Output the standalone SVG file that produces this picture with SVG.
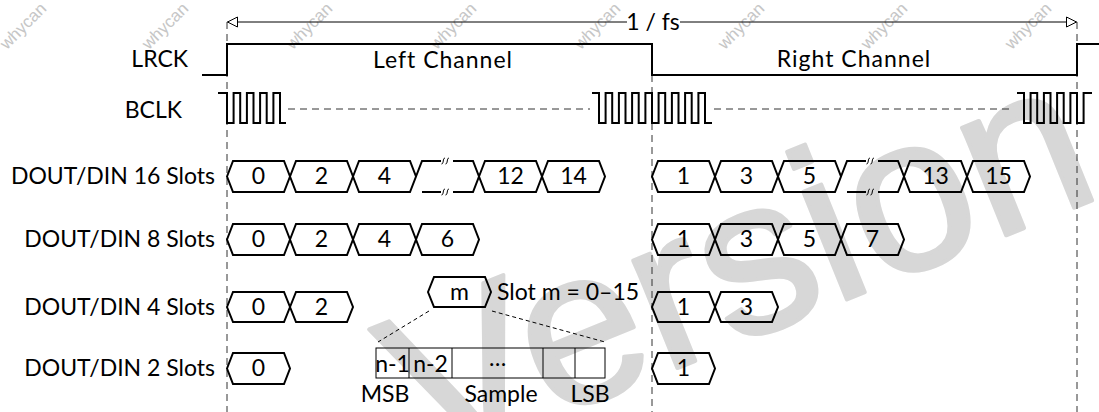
<svg xmlns="http://www.w3.org/2000/svg" width="1099" height="412" viewBox="0 0 1099 412">
<defs>
<style>
.t{font-family:Lato,"Liberation Sans",sans-serif;font-size:23px;fill:#000}
.m{text-anchor:middle}
.e{text-anchor:end}
.ch{letter-spacing:1px}
.wm{font-family:"Liberation Sans",sans-serif;font-size:17px;fill:#c6c6c6;text-anchor:middle}
.big{font-family:"Liberation Sans",sans-serif;font-size:220px;fill:#d7d7d7;stroke:#d7d7d7;stroke-width:4;stroke-linejoin:round}
.sig{fill:none;stroke:#000;stroke-width:2;stroke-linejoin:miter}
.hex{fill:none;stroke:#000;stroke-width:2;stroke-linejoin:miter}
.dash{fill:none;stroke:#333;stroke-width:1;stroke-dasharray:7 5}
.thin{fill:none;stroke:#000;stroke-width:1}
.sq{fill:none;stroke:#000;stroke-width:1}
.box{fill:none;stroke:#000;stroke-width:1}
</style>
<marker id="arr" viewBox="0 0 12 12" refX="11" refY="6" markerWidth="12" markerHeight="12" markerUnits="userSpaceOnUse" orient="auto">
<path d="M1,1 L11,6 L1,11 Z" fill="#fff" stroke="#000" stroke-width="1"/>
</marker>
</defs>

<g id="watermark">
<text class="big" transform="translate(425,470) rotate(-22)">Version</text>
<text class="wm" transform="translate(27,30) rotate(-45)">whycan</text>
<text class="wm" transform="translate(169,30) rotate(-45)">whycan</text>
<text class="wm" transform="translate(313,30) rotate(-45)">whycan</text>
<text class="wm" transform="translate(457,30) rotate(-45)">whycan</text>
<text class="wm" transform="translate(601,30) rotate(-45)">whycan</text>
<text class="wm" transform="translate(745,30) rotate(-45)">whycan</text>
<text class="wm" transform="translate(888,30) rotate(-45)">whycan</text>
<text class="wm" transform="translate(1032,30) rotate(-45)">whycan</text>
</g>

<g id="connectors">
<line class="dash" x1="227" y1="22" x2="227" y2="412"/>
<line class="dash" x1="652" y1="75" x2="652" y2="412"/>
<line class="dash" x1="1077" y1="22" x2="1077" y2="412"/>
<line class="thin" x1="627" y1="22" x2="227.5" y2="22" marker-end="url(#arr)"/>
<line class="thin" x1="680" y1="22" x2="1076.5" y2="22" marker-end="url(#arr)"/>
<line class="dash" x1="288" y1="109" x2="590" y2="109"/>
<line class="dash" x1="714" y1="109" x2="1014" y2="109"/>
<line class="thin" x1="429" y1="311" x2="378" y2="342" stroke-dasharray="4 3"/>
<line class="thin" x1="492" y1="311" x2="605" y2="342" stroke-dasharray="4 3"/>
</g>

<g id="period">
<text class="t m" x="653" y="30">1 / fs</text>
</g>

<g id="lrck">
<text class="t e" x="188" y="67">LRCK</text>
<path class="sig" d="M202,75 H227 V44 H652 V75 H1077 V44 H1099"/>
<text class="t m ch" x="443" y="68">Left Channel</text>
<text class="t m ch" x="854" y="67">Right Channel</text>
</g>

<g id="bclk">
<text class="t e" x="182" y="118">BCLK</text>
<path class="sig" d="M218,93 H227 V123 H233.6 V93 H240.2 V123 H246.9 V93 H253.5 V123 H260.1 V93 H266.7 V123 H273.4 V93 H280 V123 H286"/>
<path class="sig" d="M592,93 H599 V123 H605.6 V93 H612.2 V123 H618.9 V93 H625.5 V123 H632.1 V93 H638.7 V123 H645.4 V93 H652 V123 H658.6 V93 H665.2 V123 H671.9 V93 H678.5 V123 H685.1 V93 H691.7 V123 H698.4 V93 H705 V123 H712"/>
<path class="sig" d="M1017,93 H1024 V123 H1030.6 V93 H1037.2 V123 H1043.9 V93 H1050.5 V123 H1057.1 V93 H1063.7 V123 H1070.4 V93 H1077 V123 H1083.6 V93 H1092"/>
</g>

<g id="slots16">
<text class="t e" x="215" y="184">DOUT/DIN 16 Slots</text>
<path class="hex" d="M227,176.5 L233,161 H284 L290,176.5 L284,192 H233 Z"/>
<path class="hex" d="M290,176.5 L296,161 H347 L353,176.5 L347,192 H296 Z"/>
<path class="hex" d="M353,176.5 L359,161 H410 L416,176.5 L410,192 H359 Z"/>
<path class="hex" d="M416,176.5 L422,161 H441 M453,161 H473 L479,176.5 L473,192 H453 M441,192 H422 Z"/>
<path class="sq" d="M441.5,164 C444,164 442.5,158 445,158 M445.5,164 C448,164 446.5,158 449,158 M441.5,195 C444,195 442.5,189 445,189 M445.5,195 C448,195 446.5,189 449,189"/>
<path class="hex" d="M479,176.5 L485,161 H536 L542,176.5 L536,192 H485 Z"/>
<path class="hex" d="M542,176.5 L548,161 H599 L605,176.5 L599,192 H548 Z"/>
<text class="t m" x="258.5" y="184">0</text>
<text class="t m" x="321.5" y="184">2</text>
<text class="t m" x="384.5" y="184">4</text>
<text class="t m" x="510.5" y="184">12</text>
<text class="t m" x="573.5" y="184">14</text>
<path class="hex" d="M652,176.5 L658,161 H709 L715,176.5 L709,192 H658 Z"/>
<path class="hex" d="M715,176.5 L721,161 H772 L778,176.5 L772,192 H721 Z"/>
<path class="hex" d="M778,176.5 L784,161 H835 L841,176.5 L835,192 H784 Z"/>
<path class="hex" d="M841,176.5 L847,161 H866 M878,161 H898 L904,176.5 L898,192 H878 M866,192 H847 Z"/>
<path class="sq" d="M866.5,164 C869,164 867.5,158 870,158 M870.5,164 C873,164 871.5,158 874,158 M866.5,195 C869,195 867.5,189 870,189 M870.5,195 C873,195 871.5,189 874,189"/>
<path class="hex" d="M904,176.5 L910,161 H961 L967,176.5 L961,192 H910 Z"/>
<path class="hex" d="M967,176.5 L973,161 H1024 L1030,176.5 L1024,192 H973 Z"/>
<text class="t m" x="683.5" y="184">1</text>
<text class="t m" x="746.5" y="184">3</text>
<text class="t m" x="809.5" y="184">5</text>
<text class="t m" x="935.5" y="184">13</text>
<text class="t m" x="998.5" y="184">15</text>
</g>

<g id="slots8">
<text class="t e" x="215" y="247">DOUT/DIN 8 Slots</text>
<path class="hex" d="M227,239.5 L233,224 H284 L290,239.5 L284,255 H233 Z"/>
<path class="hex" d="M290,239.5 L296,224 H347 L353,239.5 L347,255 H296 Z"/>
<path class="hex" d="M353,239.5 L359,224 H410 L416,239.5 L410,255 H359 Z"/>
<path class="hex" d="M416,239.5 L422,224 H473 L479,239.5 L473,255 H422 Z"/>
<text class="t m" x="258.5" y="247">0</text>
<text class="t m" x="321.5" y="247">2</text>
<text class="t m" x="384.5" y="247">4</text>
<text class="t m" x="447.5" y="247">6</text>
<path class="hex" d="M652,239.5 L658,224 H709 L715,239.5 L709,255 H658 Z"/>
<path class="hex" d="M715,239.5 L721,224 H772 L778,239.5 L772,255 H721 Z"/>
<path class="hex" d="M778,239.5 L784,224 H835 L841,239.5 L835,255 H784 Z"/>
<path class="hex" d="M841,239.5 L847,224 H898 L904,239.5 L898,255 H847 Z"/>
<text class="t m" x="683.5" y="247">1</text>
<text class="t m" x="746.5" y="247">3</text>
<text class="t m" x="809.5" y="247">5</text>
<text class="t m" x="872.5" y="247">7</text>
</g>

<g id="slots4">
<text class="t e" x="215" y="314.5">DOUT/DIN 4 Slots</text>
<path class="hex" d="M227,307 L233,292 H284 L290,307 L284,322 H233 Z"/>
<path class="hex" d="M290,307 L296,292 H347 L353,307 L347,322 H296 Z"/>
<text class="t m" x="258.5" y="314.5">0</text>
<text class="t m" x="321.5" y="314.5">2</text>
<path class="hex" d="M652,307 L658,292 H709 L715,307 L709,322 H658 Z"/>
<path class="hex" d="M715,307 L721,292 H772 L778,307 L772,322 H721 Z"/>
<text class="t m" x="683.5" y="314.5">1</text>
<text class="t m" x="746.5" y="314.5">3</text>
</g>

<g id="slots2">
<text class="t e" x="215" y="376">DOUT/DIN 2 Slots</text>
<path class="hex" d="M227,368.5 L233,353 H284 L290,368.5 L284,384 H233 Z"/>
<text class="t m" x="258.5" y="376">0</text>
<path class="hex" d="M652,368.5 L658,353 H709 L715,368.5 L709,384 H658 Z"/>
<text class="t m" x="683.5" y="376">1</text>
</g>

<g id="slot-m">
<path class="hex" d="M428,292 L434,277 H485 L491,292 L485,307 H434 Z"/>
<text class="t m" x="459.5" y="299.5">m</text>
<text class="t" x="497" y="299.5">Slot m = 0–15</text>
</g>

<g id="sample">
<rect class="box" x="376" y="348" width="229" height="30"/>
<line class="box" x1="409" y1="348" x2="409" y2="378"/>
<line class="box" x1="452" y1="348" x2="452" y2="378"/>
<line class="box" x1="543" y1="348" x2="543" y2="378"/>
<line class="box" x1="575" y1="348" x2="575" y2="378"/>
<text class="t m" x="392.5" y="372">n-1</text>
<text class="t m" x="430.5" y="372">n-2</text>
<text class="t m" x="497.5" y="366">…</text>
<text class="t m" x="385" y="402">MSB</text>
<text class="t m" x="501" y="402">Sample</text>
<text class="t m" x="590" y="402">LSB</text>
</g>
</svg>
